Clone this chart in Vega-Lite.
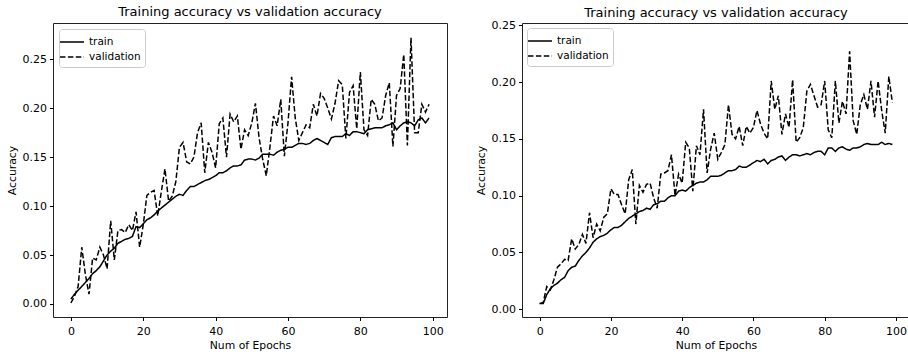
{
"$schema": "https://vega.github.io/schema/vega-lite/v6.json",
"padding": {"left": 5, "top": 5, "right": 0, "bottom": 0},
"background": "white",
"spacing": 26,
"resolve": {"scale": {"strokeDash": "independent"}, "legend": {"strokeDash": "independent"}},
"config": {
"font": "DejaVu Sans",
"view": {"stroke": "#222", "strokeWidth": 1},
"axis": {"domain": false, "grid": false, "tickColor": "#000", "tickSize": 3.5, "labelColor": "#000", "labelFontSize": 11, "titleFontSize": 10.8, "titleFontWeight": "normal", "titleColor": "#000", "labelFont": "DejaVu Sans", "titleFont": "DejaVu Sans"},
"axisX": {"labelPadding": 5, "titlePadding": 3},
"axisY": {"labelPadding": 3, "titlePadding": 5},
"title": {"fontSize": 13, "fontWeight": "normal", "color": "#000", "font": "DejaVu Sans", "anchor": "middle", "offset": 4},
"legend": {"orient": "top-left", "offset": 6, "padding": 4, "strokeColor": "#ccc", "fillColor": "white", "cornerRadius": 3, "symbolType": "M-1.5,0H1.5", "symbolStrokeColor": "black", "symbolFillColor": "transparent", "symbolStrokeWidth": 1.5, "symbolSize": 256, "labelFontSize": 10.5, "labelColor": "#000", "labelFont": "DejaVu Sans", "labelOffset": 8, "rowPadding": -1}
},
"datasets": {
"left": [
{"epoch":0,"series":"train","accuracy":0.005},{"epoch":1,"series":"train","accuracy":0.010},{"epoch":2,"series":"train","accuracy":0.014},{"epoch":3,"series":"train","accuracy":0.018},{"epoch":4,"series":"train","accuracy":0.022},{"epoch":5,"series":"train","accuracy":0.026},{"epoch":6,"series":"train","accuracy":0.031},{"epoch":7,"series":"train","accuracy":0.034},{"epoch":8,"series":"train","accuracy":0.038},{"epoch":9,"series":"train","accuracy":0.044},
{"epoch":10,"series":"train","accuracy":0.050},{"epoch":11,"series":"train","accuracy":0.054},{"epoch":12,"series":"train","accuracy":0.057},{"epoch":13,"series":"train","accuracy":0.062},{"epoch":14,"series":"train","accuracy":0.064},{"epoch":15,"series":"train","accuracy":0.066},{"epoch":16,"series":"train","accuracy":0.067},{"epoch":17,"series":"train","accuracy":0.069},{"epoch":18,"series":"train","accuracy":0.079},{"epoch":19,"series":"train","accuracy":0.078},
{"epoch":20,"series":"train","accuracy":0.082},{"epoch":21,"series":"train","accuracy":0.086},{"epoch":22,"series":"train","accuracy":0.088},{"epoch":23,"series":"train","accuracy":0.091},{"epoch":24,"series":"train","accuracy":0.095},{"epoch":25,"series":"train","accuracy":0.098},{"epoch":26,"series":"train","accuracy":0.101},{"epoch":27,"series":"train","accuracy":0.104},{"epoch":28,"series":"train","accuracy":0.107},{"epoch":29,"series":"train","accuracy":0.110},
{"epoch":30,"series":"train","accuracy":0.112},{"epoch":31,"series":"train","accuracy":0.111},{"epoch":32,"series":"train","accuracy":0.116},{"epoch":33,"series":"train","accuracy":0.120},{"epoch":34,"series":"train","accuracy":0.120},{"epoch":35,"series":"train","accuracy":0.122},{"epoch":36,"series":"train","accuracy":0.124},{"epoch":37,"series":"train","accuracy":0.126},{"epoch":38,"series":"train","accuracy":0.127},{"epoch":39,"series":"train","accuracy":0.129},
{"epoch":40,"series":"train","accuracy":0.131},{"epoch":41,"series":"train","accuracy":0.134},{"epoch":42,"series":"train","accuracy":0.134},{"epoch":43,"series":"train","accuracy":0.136},{"epoch":44,"series":"train","accuracy":0.139},{"epoch":45,"series":"train","accuracy":0.141},{"epoch":46,"series":"train","accuracy":0.141},{"epoch":47,"series":"train","accuracy":0.142},{"epoch":48,"series":"train","accuracy":0.147},{"epoch":49,"series":"train","accuracy":0.148},
{"epoch":50,"series":"train","accuracy":0.148},{"epoch":51,"series":"train","accuracy":0.147},{"epoch":52,"series":"train","accuracy":0.149},{"epoch":53,"series":"train","accuracy":0.153},{"epoch":54,"series":"train","accuracy":0.153},{"epoch":55,"series":"train","accuracy":0.153},{"epoch":56,"series":"train","accuracy":0.152},{"epoch":57,"series":"train","accuracy":0.155},{"epoch":58,"series":"train","accuracy":0.157},{"epoch":59,"series":"train","accuracy":0.158},
{"epoch":60,"series":"train","accuracy":0.160},{"epoch":61,"series":"train","accuracy":0.160},{"epoch":62,"series":"train","accuracy":0.162},{"epoch":63,"series":"train","accuracy":0.164},{"epoch":64,"series":"train","accuracy":0.164},{"epoch":65,"series":"train","accuracy":0.163},{"epoch":66,"series":"train","accuracy":0.164},{"epoch":67,"series":"train","accuracy":0.167},{"epoch":68,"series":"train","accuracy":0.169},{"epoch":69,"series":"train","accuracy":0.167},
{"epoch":70,"series":"train","accuracy":0.165},{"epoch":71,"series":"train","accuracy":0.163},{"epoch":72,"series":"train","accuracy":0.170},{"epoch":73,"series":"train","accuracy":0.171},{"epoch":74,"series":"train","accuracy":0.171},{"epoch":75,"series":"train","accuracy":0.171},{"epoch":76,"series":"train","accuracy":0.174},{"epoch":77,"series":"train","accuracy":0.172},{"epoch":78,"series":"train","accuracy":0.176},{"epoch":79,"series":"train","accuracy":0.176},
{"epoch":80,"series":"train","accuracy":0.175},{"epoch":81,"series":"train","accuracy":0.174},{"epoch":82,"series":"train","accuracy":0.178},{"epoch":83,"series":"train","accuracy":0.179},{"epoch":84,"series":"train","accuracy":0.180},{"epoch":85,"series":"train","accuracy":0.180},{"epoch":86,"series":"train","accuracy":0.180},{"epoch":87,"series":"train","accuracy":0.182},{"epoch":88,"series":"train","accuracy":0.183},{"epoch":89,"series":"train","accuracy":0.185},
{"epoch":90,"series":"train","accuracy":0.178},{"epoch":91,"series":"train","accuracy":0.182},{"epoch":92,"series":"train","accuracy":0.185},{"epoch":93,"series":"train","accuracy":0.186},{"epoch":94,"series":"train","accuracy":0.185},{"epoch":95,"series":"train","accuracy":0.182},{"epoch":96,"series":"train","accuracy":0.188},{"epoch":97,"series":"train","accuracy":0.190},{"epoch":98,"series":"train","accuracy":0.185},{"epoch":99,"series":"train","accuracy":0.190},
{"epoch":0,"series":"validation","accuracy":0.001},{"epoch":1,"series":"validation","accuracy":0.008},{"epoch":2,"series":"validation","accuracy":0.018},{"epoch":3,"series":"validation","accuracy":0.058},{"epoch":4,"series":"validation","accuracy":0.030},{"epoch":5,"series":"validation","accuracy":0.010},{"epoch":6,"series":"validation","accuracy":0.047},{"epoch":7,"series":"validation","accuracy":0.045},{"epoch":8,"series":"validation","accuracy":0.058},{"epoch":9,"series":"validation","accuracy":0.050},
{"epoch":10,"series":"validation","accuracy":0.036},{"epoch":11,"series":"validation","accuracy":0.085},{"epoch":12,"series":"validation","accuracy":0.045},{"epoch":13,"series":"validation","accuracy":0.075},{"epoch":14,"series":"validation","accuracy":0.076},{"epoch":15,"series":"validation","accuracy":0.073},{"epoch":16,"series":"validation","accuracy":0.081},{"epoch":17,"series":"validation","accuracy":0.075},{"epoch":18,"series":"validation","accuracy":0.094},{"epoch":19,"series":"validation","accuracy":0.058},
{"epoch":20,"series":"validation","accuracy":0.081},{"epoch":21,"series":"validation","accuracy":0.111},{"epoch":22,"series":"validation","accuracy":0.114},{"epoch":23,"series":"validation","accuracy":0.116},{"epoch":24,"series":"validation","accuracy":0.090},{"epoch":25,"series":"validation","accuracy":0.115},{"epoch":26,"series":"validation","accuracy":0.138},{"epoch":27,"series":"validation","accuracy":0.105},{"epoch":28,"series":"validation","accuracy":0.110},{"epoch":29,"series":"validation","accuracy":0.125},
{"epoch":30,"series":"validation","accuracy":0.160},{"epoch":31,"series":"validation","accuracy":0.165},{"epoch":32,"series":"validation","accuracy":0.145},{"epoch":33,"series":"validation","accuracy":0.143},{"epoch":34,"series":"validation","accuracy":0.150},{"epoch":35,"series":"validation","accuracy":0.175},{"epoch":36,"series":"validation","accuracy":0.185},{"epoch":37,"series":"validation","accuracy":0.134},{"epoch":38,"series":"validation","accuracy":0.165},{"epoch":39,"series":"validation","accuracy":0.155},
{"epoch":40,"series":"validation","accuracy":0.139},{"epoch":41,"series":"validation","accuracy":0.184},{"epoch":42,"series":"validation","accuracy":0.190},{"epoch":43,"series":"validation","accuracy":0.150},{"epoch":44,"series":"validation","accuracy":0.194},{"epoch":45,"series":"validation","accuracy":0.186},{"epoch":46,"series":"validation","accuracy":0.192},{"epoch":47,"series":"validation","accuracy":0.158},{"epoch":48,"series":"validation","accuracy":0.178},{"epoch":49,"series":"validation","accuracy":0.172},
{"epoch":50,"series":"validation","accuracy":0.185},{"epoch":51,"series":"validation","accuracy":0.205},{"epoch":52,"series":"validation","accuracy":0.170},{"epoch":53,"series":"validation","accuracy":0.148},{"epoch":54,"series":"validation","accuracy":0.131},{"epoch":55,"series":"validation","accuracy":0.160},{"epoch":56,"series":"validation","accuracy":0.192},{"epoch":57,"series":"validation","accuracy":0.182},{"epoch":58,"series":"validation","accuracy":0.209},{"epoch":59,"series":"validation","accuracy":0.151},
{"epoch":60,"series":"validation","accuracy":0.185},{"epoch":61,"series":"validation","accuracy":0.232},{"epoch":62,"series":"validation","accuracy":0.190},{"epoch":63,"series":"validation","accuracy":0.167},{"epoch":64,"series":"validation","accuracy":0.175},{"epoch":65,"series":"validation","accuracy":0.183},{"epoch":66,"series":"validation","accuracy":0.180},{"epoch":67,"series":"validation","accuracy":0.204},{"epoch":68,"series":"validation","accuracy":0.192},{"epoch":69,"series":"validation","accuracy":0.215},
{"epoch":70,"series":"validation","accuracy":0.210},{"epoch":71,"series":"validation","accuracy":0.200},{"epoch":72,"series":"validation","accuracy":0.189},{"epoch":73,"series":"validation","accuracy":0.205},{"epoch":74,"series":"validation","accuracy":0.228},{"epoch":75,"series":"validation","accuracy":0.224},{"epoch":76,"series":"validation","accuracy":0.169},{"epoch":77,"series":"validation","accuracy":0.216},{"epoch":78,"series":"validation","accuracy":0.223},{"epoch":79,"series":"validation","accuracy":0.179},
{"epoch":80,"series":"validation","accuracy":0.237},{"epoch":81,"series":"validation","accuracy":0.178},{"epoch":82,"series":"validation","accuracy":0.172},{"epoch":83,"series":"validation","accuracy":0.209},{"epoch":84,"series":"validation","accuracy":0.204},{"epoch":85,"series":"validation","accuracy":0.187},{"epoch":86,"series":"validation","accuracy":0.190},{"epoch":87,"series":"validation","accuracy":0.213},{"epoch":88,"series":"validation","accuracy":0.226},{"epoch":89,"series":"validation","accuracy":0.161},
{"epoch":90,"series":"validation","accuracy":0.213},{"epoch":91,"series":"validation","accuracy":0.220},{"epoch":92,"series":"validation","accuracy":0.255},{"epoch":93,"series":"validation","accuracy":0.162},{"epoch":94,"series":"validation","accuracy":0.272},{"epoch":95,"series":"validation","accuracy":0.175},{"epoch":96,"series":"validation","accuracy":0.175},{"epoch":97,"series":"validation","accuracy":0.204},{"epoch":98,"series":"validation","accuracy":0.196},{"epoch":99,"series":"validation","accuracy":0.204}
],
"right": [
{"epoch":0,"series":"train","accuracy":0.005},{"epoch":1,"series":"train","accuracy":0.005},{"epoch":2,"series":"train","accuracy":0.013},{"epoch":3,"series":"train","accuracy":0.018},{"epoch":4,"series":"train","accuracy":0.021},{"epoch":5,"series":"train","accuracy":0.023},{"epoch":6,"series":"train","accuracy":0.026},{"epoch":7,"series":"train","accuracy":0.028},{"epoch":8,"series":"train","accuracy":0.034},{"epoch":9,"series":"train","accuracy":0.037},
{"epoch":10,"series":"train","accuracy":0.038},{"epoch":11,"series":"train","accuracy":0.043},{"epoch":12,"series":"train","accuracy":0.047},{"epoch":13,"series":"train","accuracy":0.050},{"epoch":14,"series":"train","accuracy":0.054},{"epoch":15,"series":"train","accuracy":0.059},{"epoch":16,"series":"train","accuracy":0.062},{"epoch":17,"series":"train","accuracy":0.064},{"epoch":18,"series":"train","accuracy":0.065},{"epoch":19,"series":"train","accuracy":0.067},
{"epoch":20,"series":"train","accuracy":0.070},{"epoch":21,"series":"train","accuracy":0.072},{"epoch":22,"series":"train","accuracy":0.072},{"epoch":23,"series":"train","accuracy":0.074},{"epoch":24,"series":"train","accuracy":0.077},{"epoch":25,"series":"train","accuracy":0.080},{"epoch":26,"series":"train","accuracy":0.082},{"epoch":27,"series":"train","accuracy":0.084},{"epoch":28,"series":"train","accuracy":0.086},{"epoch":29,"series":"train","accuracy":0.087},
{"epoch":30,"series":"train","accuracy":0.089},{"epoch":31,"series":"train","accuracy":0.088},{"epoch":32,"series":"train","accuracy":0.092},{"epoch":33,"series":"train","accuracy":0.093},{"epoch":34,"series":"train","accuracy":0.095},{"epoch":35,"series":"train","accuracy":0.095},{"epoch":36,"series":"train","accuracy":0.098},{"epoch":37,"series":"train","accuracy":0.100},{"epoch":38,"series":"train","accuracy":0.100},{"epoch":39,"series":"train","accuracy":0.104},
{"epoch":40,"series":"train","accuracy":0.105},{"epoch":41,"series":"train","accuracy":0.104},{"epoch":42,"series":"train","accuracy":0.107},{"epoch":43,"series":"train","accuracy":0.109},{"epoch":44,"series":"train","accuracy":0.111},{"epoch":45,"series":"train","accuracy":0.112},{"epoch":46,"series":"train","accuracy":0.112},{"epoch":47,"series":"train","accuracy":0.114},{"epoch":48,"series":"train","accuracy":0.117},{"epoch":49,"series":"train","accuracy":0.117},
{"epoch":50,"series":"train","accuracy":0.117},{"epoch":51,"series":"train","accuracy":0.118},{"epoch":52,"series":"train","accuracy":0.120},{"epoch":53,"series":"train","accuracy":0.122},{"epoch":54,"series":"train","accuracy":0.122},{"epoch":55,"series":"train","accuracy":0.123},{"epoch":56,"series":"train","accuracy":0.126},{"epoch":57,"series":"train","accuracy":0.125},{"epoch":58,"series":"train","accuracy":0.125},{"epoch":59,"series":"train","accuracy":0.127},
{"epoch":60,"series":"train","accuracy":0.129},{"epoch":61,"series":"train","accuracy":0.131},{"epoch":62,"series":"train","accuracy":0.130},{"epoch":63,"series":"train","accuracy":0.132},{"epoch":64,"series":"train","accuracy":0.128},{"epoch":65,"series":"train","accuracy":0.131},{"epoch":66,"series":"train","accuracy":0.132},{"epoch":67,"series":"train","accuracy":0.134},{"epoch":68,"series":"train","accuracy":0.135},{"epoch":69,"series":"train","accuracy":0.131},
{"epoch":70,"series":"train","accuracy":0.134},{"epoch":71,"series":"train","accuracy":0.136},{"epoch":72,"series":"train","accuracy":0.136},{"epoch":73,"series":"train","accuracy":0.135},{"epoch":74,"series":"train","accuracy":0.136},{"epoch":75,"series":"train","accuracy":0.137},{"epoch":76,"series":"train","accuracy":0.136},{"epoch":77,"series":"train","accuracy":0.138},{"epoch":78,"series":"train","accuracy":0.139},{"epoch":79,"series":"train","accuracy":0.139},
{"epoch":80,"series":"train","accuracy":0.136},{"epoch":81,"series":"train","accuracy":0.142},{"epoch":82,"series":"train","accuracy":0.142},{"epoch":83,"series":"train","accuracy":0.139},{"epoch":84,"series":"train","accuracy":0.142},{"epoch":85,"series":"train","accuracy":0.143},{"epoch":86,"series":"train","accuracy":0.141},{"epoch":87,"series":"train","accuracy":0.140},{"epoch":88,"series":"train","accuracy":0.142},{"epoch":89,"series":"train","accuracy":0.142},
{"epoch":90,"series":"train","accuracy":0.143},{"epoch":91,"series":"train","accuracy":0.145},{"epoch":92,"series":"train","accuracy":0.146},{"epoch":93,"series":"train","accuracy":0.145},{"epoch":94,"series":"train","accuracy":0.145},{"epoch":95,"series":"train","accuracy":0.145},{"epoch":96,"series":"train","accuracy":0.147},{"epoch":97,"series":"train","accuracy":0.145},{"epoch":98,"series":"train","accuracy":0.146},{"epoch":99,"series":"train","accuracy":0.145},
{"epoch":0,"series":"validation","accuracy":0.005},{"epoch":1,"series":"validation","accuracy":0.006},{"epoch":2,"series":"validation","accuracy":0.020},{"epoch":3,"series":"validation","accuracy":0.017},{"epoch":4,"series":"validation","accuracy":0.026},{"epoch":5,"series":"validation","accuracy":0.037},{"epoch":6,"series":"validation","accuracy":0.040},{"epoch":7,"series":"validation","accuracy":0.044},{"epoch":8,"series":"validation","accuracy":0.043},{"epoch":9,"series":"validation","accuracy":0.062},
{"epoch":10,"series":"validation","accuracy":0.053},{"epoch":11,"series":"validation","accuracy":0.057},{"epoch":12,"series":"validation","accuracy":0.066},{"epoch":13,"series":"validation","accuracy":0.058},{"epoch":14,"series":"validation","accuracy":0.085},{"epoch":15,"series":"validation","accuracy":0.063},{"epoch":16,"series":"validation","accuracy":0.075},{"epoch":17,"series":"validation","accuracy":0.069},{"epoch":18,"series":"validation","accuracy":0.081},{"epoch":19,"series":"validation","accuracy":0.084},
{"epoch":20,"series":"validation","accuracy":0.106},{"epoch":21,"series":"validation","accuracy":0.101},{"epoch":22,"series":"validation","accuracy":0.101},{"epoch":23,"series":"validation","accuracy":0.092},{"epoch":24,"series":"validation","accuracy":0.084},{"epoch":25,"series":"validation","accuracy":0.114},{"epoch":26,"series":"validation","accuracy":0.123},{"epoch":27,"series":"validation","accuracy":0.075},{"epoch":28,"series":"validation","accuracy":0.109},{"epoch":29,"series":"validation","accuracy":0.103},
{"epoch":30,"series":"validation","accuracy":0.110},{"epoch":31,"series":"validation","accuracy":0.111},{"epoch":32,"series":"validation","accuracy":0.098},{"epoch":33,"series":"validation","accuracy":0.089},{"epoch":34,"series":"validation","accuracy":0.119},{"epoch":35,"series":"validation","accuracy":0.120},{"epoch":36,"series":"validation","accuracy":0.122},{"epoch":37,"series":"validation","accuracy":0.136},{"epoch":38,"series":"validation","accuracy":0.100},{"epoch":39,"series":"validation","accuracy":0.119},
{"epoch":40,"series":"validation","accuracy":0.111},{"epoch":41,"series":"validation","accuracy":0.147},{"epoch":42,"series":"validation","accuracy":0.142},{"epoch":43,"series":"validation","accuracy":0.104},{"epoch":44,"series":"validation","accuracy":0.144},{"epoch":45,"series":"validation","accuracy":0.136},{"epoch":46,"series":"validation","accuracy":0.176},{"epoch":47,"series":"validation","accuracy":0.120},{"epoch":48,"series":"validation","accuracy":0.141},{"epoch":49,"series":"validation","accuracy":0.155},
{"epoch":50,"series":"validation","accuracy":0.132},{"epoch":51,"series":"validation","accuracy":0.138},{"epoch":52,"series":"validation","accuracy":0.145},{"epoch":53,"series":"validation","accuracy":0.180},{"epoch":54,"series":"validation","accuracy":0.154},{"epoch":55,"series":"validation","accuracy":0.150},{"epoch":56,"series":"validation","accuracy":0.161},{"epoch":57,"series":"validation","accuracy":0.144},{"epoch":58,"series":"validation","accuracy":0.161},{"epoch":59,"series":"validation","accuracy":0.155},
{"epoch":60,"series":"validation","accuracy":0.160},{"epoch":61,"series":"validation","accuracy":0.175},{"epoch":62,"series":"validation","accuracy":0.163},{"epoch":63,"series":"validation","accuracy":0.155},{"epoch":64,"series":"validation","accuracy":0.150},{"epoch":65,"series":"validation","accuracy":0.201},{"epoch":66,"series":"validation","accuracy":0.176},{"epoch":67,"series":"validation","accuracy":0.188},{"epoch":68,"series":"validation","accuracy":0.154},{"epoch":69,"series":"validation","accuracy":0.172},
{"epoch":70,"series":"validation","accuracy":0.160},{"epoch":71,"series":"validation","accuracy":0.202},{"epoch":72,"series":"validation","accuracy":0.147},{"epoch":73,"series":"validation","accuracy":0.151},{"epoch":74,"series":"validation","accuracy":0.160},{"epoch":75,"series":"validation","accuracy":0.192},{"epoch":76,"series":"validation","accuracy":0.198},{"epoch":77,"series":"validation","accuracy":0.188},{"epoch":78,"series":"validation","accuracy":0.178},{"epoch":79,"series":"validation","accuracy":0.180},
{"epoch":80,"series":"validation","accuracy":0.201},{"epoch":81,"series":"validation","accuracy":0.158},{"epoch":82,"series":"validation","accuracy":0.151},{"epoch":83,"series":"validation","accuracy":0.201},{"epoch":84,"series":"validation","accuracy":0.164},{"epoch":85,"series":"validation","accuracy":0.183},{"epoch":86,"series":"validation","accuracy":0.172},{"epoch":87,"series":"validation","accuracy":0.227},{"epoch":88,"series":"validation","accuracy":0.166},{"epoch":89,"series":"validation","accuracy":0.154},
{"epoch":90,"series":"validation","accuracy":0.180},{"epoch":91,"series":"validation","accuracy":0.189},{"epoch":92,"series":"validation","accuracy":0.176},{"epoch":93,"series":"validation","accuracy":0.201},{"epoch":94,"series":"validation","accuracy":0.169},{"epoch":95,"series":"validation","accuracy":0.201},{"epoch":96,"series":"validation","accuracy":0.175},{"epoch":97,"series":"validation","accuracy":0.155},{"epoch":98,"series":"validation","accuracy":0.205},{"epoch":99,"series":"validation","accuracy":0.182}
]
},
"hconcat": [
{
"width": 394, "height": 294,
"title": {"text": "Training accuracy vs validation accuracy", "offset": 4},
"data": {"name": "left"},
"mark": {"type": "line", "color": "black", "strokeWidth": 1.5},
"encoding": {
"x": {"field": "epoch", "type": "quantitative", "scale": {"domain": [-4.95, 103.95], "nice": false, "zero": false}, "axis": {"values": [0, 20, 40, 60, 80, 100], "title": "Num of Epochs"}},
"y": {"field": "accuracy", "type": "quantitative", "scale": {"domain": [-0.0133, 0.287], "nice": false, "zero": false}, "axis": {"values": [0, 0.05, 0.1, 0.15, 0.2, 0.25], "format": ".2f", "title": "Accuracy"}},
"strokeDash": {"field": "series", "type": "nominal", "scale": {"domain": ["train", "validation"], "range": [[1, 0], [5.5, 2.4]]}, "legend": {"title": null, "orient": "top-left"}}
}
},
{
"width": 388, "height": 294,
"title": {"text": "Training accuracy vs validation accuracy", "offset": -1},
"data": {"name": "right"},
"mark": {"type": "line", "color": "black", "strokeWidth": 1.5},
"encoding": {
"x": {"field": "epoch", "type": "quantitative", "scale": {"domain": [-4.95, 103.95], "nice": false, "zero": false}, "axis": {"values": [0, 20, 40, 60, 80, 100], "title": "Num of Epochs"}},
"y": {"field": "accuracy", "type": "quantitative", "scale": {"domain": [-0.0068, 0.252], "nice": false, "zero": false}, "axis": {"values": [0, 0.05, 0.1, 0.15, 0.2, 0.25], "format": ".2f", "title": "Accuracy"}},
"strokeDash": {"field": "series", "type": "nominal", "scale": {"domain": ["train", "validation"], "range": [[1, 0], [5.5, 2.4]]}, "legend": {"title": null, "orient": "top-left", "offset": 5}}
}
}
]
}
